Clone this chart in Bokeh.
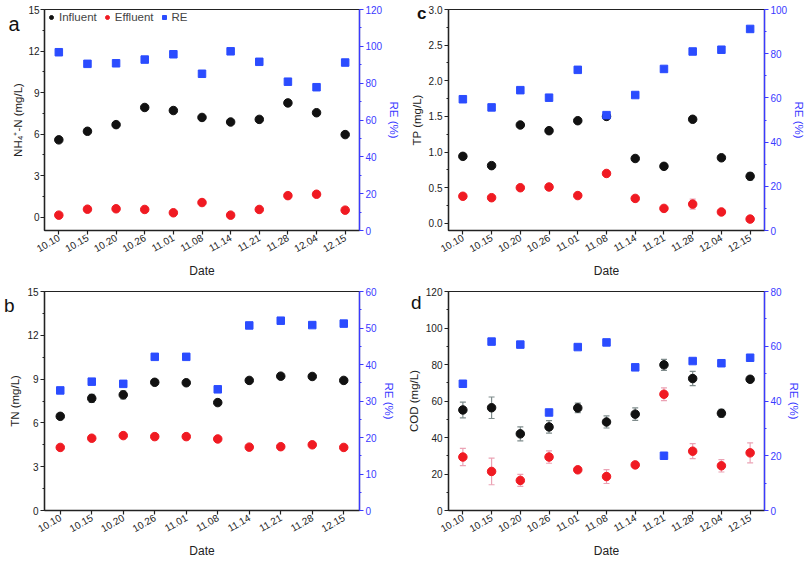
import math
from bokeh.plotting import figure
from bokeh.models import (Range1d, LinearAxis, FixedTicker, Whisker,
                          ColumnDataSource, TeeHead, NumeralTickFormatter)
from bokeh.layouts import gridplot
from bokeh.embed import file_html
from bokeh.resources import INLINE

# ---------------- data ----------------
dates_11 = ["10.10", "10.15", "10.20", "10.26", "11.01", "11.08", "11.14",
            "11.21", "11.28", "12.04", "12.15"]
dates_10 = ["10.10", "10.15", "10.20", "10.26", "11.01", "11.08", "11.14",
            "11.21", "11.28", "12.15"]

# (a) NH4+-N
nh4_influent = [5.58, 6.2, 6.68, 7.92, 7.7, 7.2, 6.87, 7.06, 8.25, 7.54, 5.96]
nh4_effluent = [0.14, 0.57, 0.6, 0.55, 0.31, 1.05, 0.14, 0.55, 1.55, 1.65, 0.5]
nh4_re = [96.8, 90.5, 90.8, 92.8, 95.7, 85.1, 97.3, 91.6, 80.8, 77.8, 91.2]

# (b) TN
tn_influent = [6.45, 7.68, 7.92, 8.78, 8.75, 7.39, 8.91, 9.2, 9.18, 8.91]
tn_influent_err = [0, 0.27, 0.27, 0, 0, 0, 0, 0, 0, 0]
tn_effluent = [4.32, 4.95, 5.13, 5.06, 5.06, 4.9, 4.34, 4.37, 4.5, 4.32]
tn_re = [32.9, 35.3, 34.7, 42.1, 42.1, 33.2, 50.7, 52.0, 50.8, 51.2]

# (c) TP
tp_influent = [0.94, 0.81, 1.38, 1.30, 1.44, 1.50, 0.91, 0.80, 1.46, 0.92, 0.66]
tp_influent_err = [0, 0, 0, 0, 0, 0, 0, 0, 0, 0, 0.05]
tp_effluent = [0.38, 0.36, 0.50, 0.51, 0.39, 0.70, 0.35, 0.21, 0.27, 0.16, 0.06]
tp_effluent_err = [0, 0, 0, 0, 0, 0, 0, 0, 0.07, 0, 0]
tp_re = [59.4, 55.7, 63.5, 60.1, 72.7, 52.2, 61.3, 73.1, 81.0, 81.8, 91.2]

# (d) COD
cod_influent = [55.1, 56.3, 42.0, 45.8, 56.2, 48.5, 52.8, 79.8, 72.3, 53.3, 71.9]
cod_influent_err = [4.3, 5.9, 3.8, 3.4, 2.6, 3.3, 3.4, 3.0, 3.9, 2.1, 1.0]
cod_effluent = [29.3, 21.4, 16.5, 29.3, 22.3, 18.6, 25.0, 63.7, 32.5, 24.5, 31.6]
cod_effluent_err = [4.7, 7.3, 3.3, 3.4, 1.0, 3.8, 1.0, 3.5, 4.1, 3.4, 5.5]
cod_re = [46.3, 61.7, 60.6, 35.8, 59.7, 61.4, 52.3, 20.0, 54.6, 53.8, 55.8]

# axis ticks
a_left_ticks = [0, 3, 6, 9, 12, 15]
a_right_ticks = [0, 20, 40, 60, 80, 100, 120]
b_left_ticks = [0, 3, 6, 9, 12, 15]
b_right_ticks = [0, 10, 20, 30, 40, 50, 60]
c_left_ticks = [0.0, 0.5, 1.0, 1.5, 2.0, 2.5, 3.0]
c_right_ticks = [0, 20, 40, 60, 80, 100]
d_left_ticks = [0, 20, 40, 60, 80, 100, 120]
d_right_ticks = [0, 20, 40, 60, 80]

panel_letters = ["a", "b", "c", "d"]

# ---------------- styling ----------------
FONT = "Liberation Sans"
BLACK = "#111111"
RED = "#f01a22"
BLUE = "#2b4cff"
AXBLUE = "#3a3aff"
ERR_BLACK = "#7f8c8c"
ERR_RED = "#eba3b5"


def minor_of(ticks):
    m = []
    for i in range(len(ticks) - 1):
        m.append((ticks[i] + ticks[i + 1]) / 2.0)
    return m


def style_axis(ax, color, size="10px"):
    ax.axis_line_color = color
    ax.axis_line_width = 1.4
    ax.major_tick_line_color = color
    ax.minor_tick_line_color = color
    ax.major_tick_line_width = 1.2
    ax.major_tick_in = 0
    ax.major_tick_out = 4
    ax.minor_tick_in = 0
    ax.minor_tick_out = 2
    ax.major_label_text_color = color
    ax.major_label_text_font = FONT
    ax.major_label_text_font_size = size
    ax.axis_label_text_color = color
    ax.axis_label_text_font = FONT
    ax.axis_label_text_font_size = "11.5px"
    ax.axis_label_text_font_style = "normal"
    ax.major_label_standoff = 2
    ax.axis_label_standoff = 3


def add_err(p, factors, vals, errs, color):
    xs, lo, hi = [], [], []
    for f, v, e in zip(factors, vals, errs):
        if e > 0:
            xs.append(f)
            lo.append(v - e)
            hi.append(v + e)
    if not xs:
        return
    src = ColumnDataSource(dict(x=xs, lower=lo, upper=hi))
    w = Whisker(source=src, base="x", lower="lower", upper="upper",
                dimension="height", line_color=color, line_width=1.2,
                upper_head=TeeHead(size=6, line_color=color, line_width=1.2),
                lower_head=TeeHead(size=6, line_color=color, line_width=1.2))
    p.add_layout(w)


def make_panel(factors, left_range, right_range, left_ticks, right_ticks,
               left_label, influent, effluent, re, height, b_top, b_bottom,
               b_left, b_right, letter, letter_y, letter_standoff, letter_size,
               letter_bold=False, infl_err=None, effl_err=None,
               left_fmt=None, legend=False, tight_left=False):
    p = figure(width=404, height=height, x_range=factors,
               y_range=Range1d(*left_range), output_backend="svg",
               toolbar_location=None, min_border_left=b_left,
               min_border_right=b_right, min_border_top=b_top,
               min_border_bottom=b_bottom, background_fill_color="white",
               border_fill_color="white")
    p.xgrid.visible = False
    p.ygrid.visible = False
    p.outline_line_color = "#222222"
    p.outline_line_width = 1.2

    p.extra_y_ranges = {"re": Range1d(*right_range)}
    rax = LinearAxis(y_range_name="re", axis_label="RE (%)")
    rax.ticker = FixedTicker(ticks=right_ticks, minor_ticks=minor_of(right_ticks))
    style_axis(rax, AXBLUE)
    p.add_layout(rax, "right")

    lax = p.yaxis[0]
    lax.axis_label = left_label
    lax.ticker = FixedTicker(ticks=left_ticks, minor_ticks=minor_of(left_ticks))
    if left_fmt:
        lax.formatter = NumeralTickFormatter(format=left_fmt)
    style_axis(lax, "#222222")
    if tight_left:
        lax.major_label_standoff = 1
        lax.axis_label_standoff = 1

    # panel letter, drawn as the single tick label of a bare outer left axis
    lt = LinearAxis(ticker=FixedTicker(ticks=[letter_y], minor_ticks=[]))
    lt.major_label_overrides = {letter_y: letter}
    lt.axis_line_color = None
    lt.major_tick_line_color = None
    lt.minor_tick_line_color = None
    lt.major_tick_out = 0
    lt.major_tick_in = 0
    lt.minor_tick_out = 0
    lt.major_label_standoff = letter_standoff
    lt.major_label_text_font = FONT
    lt.major_label_text_font_size = letter_size
    lt.major_label_text_color = "#111111"
    lt.major_label_text_font_style = "bold" if letter_bold else "normal"
    p.add_layout(lt, "left")

    xax = p.xaxis[0]
    xax.axis_label = "Date"
    style_axis(xax, "#222222")
    xax.major_label_orientation = math.pi / 6
    xax.axis_label_text_font_size = "12px"
    xax.axis_label_standoff = 5

    if infl_err:
        add_err(p, factors, influent, infl_err, ERR_BLACK)
    if effl_err:
        add_err(p, factors, effluent, effl_err, ERR_RED)

    kw_i, kw_e, kw_r = {}, {}, {}
    if legend:
        kw_i = dict(legend_label="Influent")
        kw_e = dict(legend_label="Effluent")
        kw_r = dict(legend_label="RE")
    p.scatter(factors, influent, marker="circle", size=8.5, color=BLACK, **kw_i)
    p.scatter(factors, effluent, marker="circle", size=8.5, color=RED, **kw_e)
    p.scatter(factors, re, marker="square", size=7.5, color=BLUE,
              y_range_name="re", **kw_r)

    if legend:
        lg = p.legend[0]
        lg.location = "top_left"
        lg.orientation = "horizontal"
        lg.background_fill_alpha = 0
        lg.border_line_color = None
        lg.label_text_font = FONT
        lg.label_text_font_size = "11.5px"
        lg.glyph_width = 10
        lg.glyph_height = 12
        lg.label_standoff = 3
        lg.spacing = 5
        lg.margin = 2
        lg.padding = 1
    return p


pa = make_panel(dates_11, (-0.97, 15), (0, 120), a_left_ticks, a_right_ticks,
                "NH\u2084\u207a-N (mg/L)", nh4_influent, nh4_effluent, nh4_re,
                height=280, b_top=9, b_bottom=48, b_left=40, b_right=45,
                letter=panel_letters[0], letter_y=13.93, letter_standoff=-10,
                letter_size="20px", legend=True, tight_left=True)

pc = make_panel(dates_11, (-0.1, 3.0), (0, 100), c_left_ticks, c_right_ticks,
                "TP (mg/L)", tp_influent, tp_effluent, tp_re,
                height=280, b_top=9, b_bottom=48, b_left=40, b_right=43,
                letter=panel_letters[2], letter_y=2.94, letter_standoff=-19,
                letter_size="17px", letter_bold=True,
                infl_err=tp_influent_err, effl_err=tp_effluent_err,
                left_fmt="0.0")

pb = make_panel(dates_10, (0, 15), (0, 60), b_left_ticks, b_right_ticks,
                "TN (mg/L)", tn_influent, tn_effluent, tn_re,
                height=280, b_top=11, b_bottom=47, b_left=40, b_right=45,
                letter=panel_letters[1], letter_y=14.06, letter_standoff=-8,
                letter_size="19px", infl_err=tn_influent_err)

pd_ = make_panel(dates_11, (0, 120), (0, 80), d_left_ticks, d_right_ticks,
                 "COD (mg/L)", cod_influent, cod_effluent, cod_re,
                 height=280, b_top=11, b_bottom=47, b_left=39, b_right=43,
                 letter=panel_letters[3], letter_y=114.1, letter_standoff=-17,
                 letter_size="19px",
                 infl_err=cod_influent_err, effl_err=cod_effluent_err)

layout = gridplot([[pa, pc], [pb, pd_]], toolbar_location=None)

open("out.html", "w").write(file_html(layout, INLINE))
